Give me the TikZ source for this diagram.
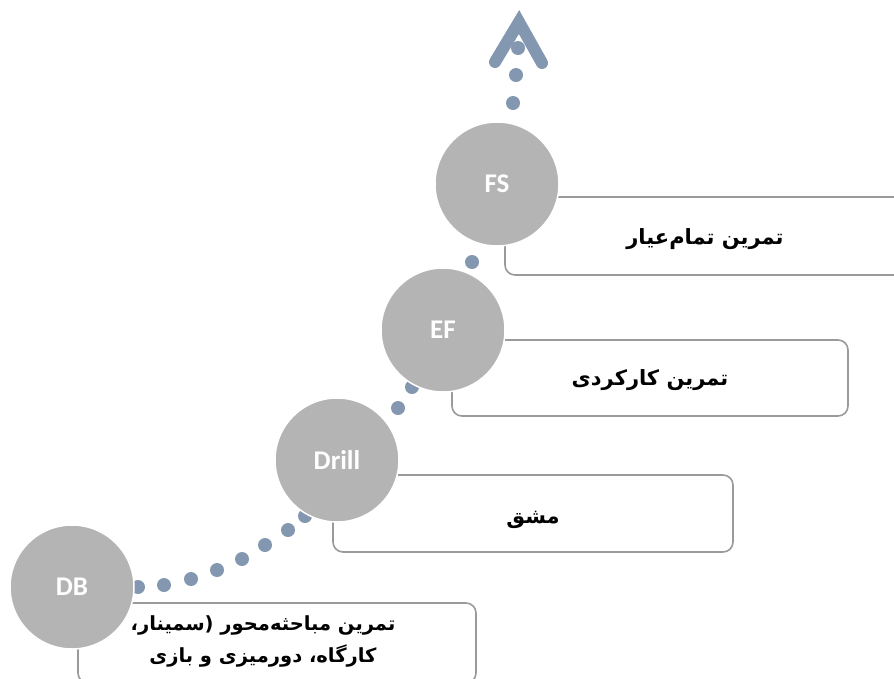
\documentclass[tikz,border=0pt]{standalone}
\usepackage{fontspec}
\TeXXeTstate=1
\newfontfamily\fafont[Script=Arabic]{DejaVu Sans}
\newfontfamily\latfont{Carlito}
\definecolor{dotc}{HTML}{8497B0}
\definecolor{circc}{HTML}{B4B4B4}
\definecolor{boxc}{HTML}{9A9A9A}
\tikzset{
  stage/.style={circle, fill=circc, draw=white, line width=1.5pt, minimum size=124pt, inner sep=0pt,
    font=\latfont\bfseries\fontsize{27}{27}\selectfont, text=white},
  stagebox/.style={rectangle, rounded corners=10pt, draw=boxc, line width=1.6pt, inner sep=0pt},
  fatext/.style={font=\fafont\bfseries\fontsize{21}{33}\selectfont, align=center, text=black},
  pathdot/.style={circle, fill=dotc, minimum size=14pt, inner sep=0pt}
}
\begin{document}
\begin{tikzpicture}[x=1pt,y=-1pt]
\useasboundingbox (0,0) rectangle (894,678);
\clip (0,0) rectangle (894,678);
% boxes
\node[stagebox, minimum width=398pt, minimum height=80pt] (dbbox) at (277,643) {};
\node[stagebox, minimum width=400pt, minimum height=77pt] (drillbox) at (533,513.5) {};
\node[stagebox, minimum width=396pt, minimum height=76pt] (efbox) at (650,378) {};
\node[stagebox, minimum width=400pt, minimum height=78pt] (fsbox) at (705,236) {};
% dotted path
\foreach \px/\py [count=\i] in {138/587,164/585,191/579,217/570,242/559,265/545,288/530,305/516,
  398/408,412/387,472/262,513/103,516/75,518/48}
  \node[pathdot] (d\i) at (\px,\py) {};
% arrow head
\coordinate (al) at (495,62);
\coordinate (at) at (519,22);
\coordinate (ar) at (542,63);
\draw[dotc, line width=12pt, line cap=round, line join=miter] (al) -- (at) -- (ar);
% circles
\node[stage] (db) at (72,587) {DB};
\node[stage] (drill) at (337,460) {Drill};
\node[stage] (ef) at (443,330) {EF};
\node[stage] (fs) at (497,184) {FS};
% box texts
\node[fatext, font=\fafont\bfseries\fontsize{19.5}{32}\selectfont] (dbtext) at (263,641) {\beginR تمرین مباحثه‌محور (سمینار،\endR\\\beginR کارگاه، دورمیزی و بازی\endR};
\node[fatext] (drilltext) at ([yshift=-6pt]drillbox.center) {\beginR مشق\endR};
\node[fatext] (eftext) at ([yshift=-2pt]efbox.center) {\beginR تمرین کارکردی\endR};
\node[fatext] (fstext) at ([yshift=-3pt]fsbox.center) {\beginR تمرین تمام‌عیار\endR};
\end{tikzpicture}
\end{document}
